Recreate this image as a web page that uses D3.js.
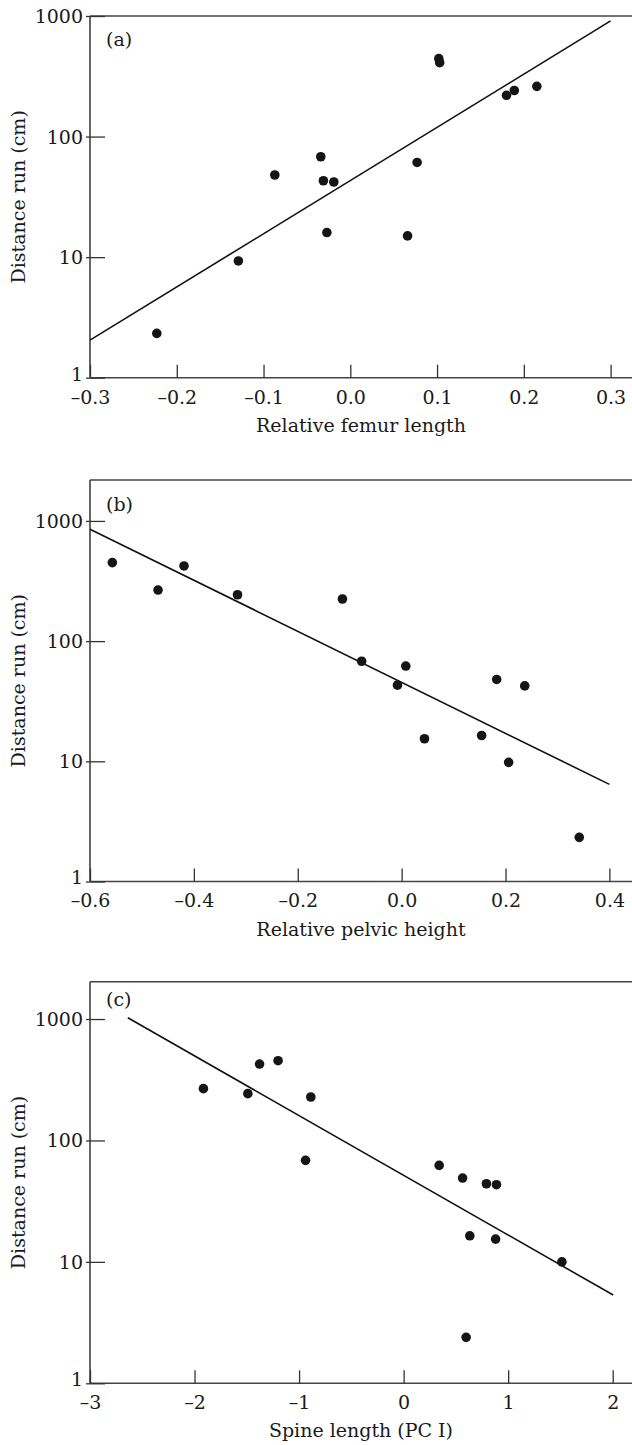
<!DOCTYPE html>
<html>
<head>
<meta charset="utf-8">
<script src="https://cdn.jsdelivr.net/npm/d3@7"></script>
<style>
  html, body { margin: 0; padding: 0; background: #fff; }
  svg text { font-family: "DejaVu Serif", "Liberation Serif", serif; fill: #1a1a1a; }
</style>
</head>
<body>
<svg id="chart" width="632" height="1445"></svg>
<script>
// ---- Data ----
const femurX = [-0.223, -0.129, -0.087, -0.034, -0.031, -0.019, -0.027, 0.066, 0.077, 0.102, 0.103, 0.180, 0.189, 0.215];
const femurY = [2.33, 9.3, 48, 68, 43, 42, 16, 15, 61, 443, 410, 220, 241, 261];
const fitFemurX = [-0.3, 0.3];
const fitFemurY = [2.05, 910];

const pelvicX = [-0.557, -0.469, -0.419, -0.316, -0.114, -0.077, 0.008, -0.008, 0.044, 0.154, 0.183, 0.206, 0.237, 0.342];
const pelvicY = [450, 266, 422, 243, 224, 68, 62, 43, 15.4, 16.4, 48, 9.8, 42.4, 2.33];
const fitPelvicX = [-0.6, 0.4];
const fitPelvicY = [853, 6.43];

const spineX = [-1.915, -1.49, -1.378, -1.201, -0.888, -0.938, 0.34, 0.564, 0.792, 0.888, 0.633, 0.88, 1.514, 0.598];
const spineY = [267, 243, 426, 454, 228, 68.6, 62.3, 49, 44, 43.2, 16.4, 15.4, 10, 2.39];
const fitSpineX = [-2.638, 2.005];
const fitSpineY = [1025, 5.33];

const yTicks = [1, 10, 100, 1000];
const yTickLabels = ["1", "10", "100", "1000"];
const femurTicks = [-0.3, -0.2, -0.1, 0.0, 0.1, 0.2, 0.3];
const femurTickLabels = ["\u20130.3", "\u20130.2", "\u20130.1", "0.0", "0.1", "0.2", "0.3"];
const pelvicTicks = [-0.6, -0.4, -0.2, 0.0, 0.2, 0.4];
const pelvicTickLabels = ["\u20130.6", "\u20130.4", "\u20130.2", "0.0", "0.2", "0.4"];
const spineTicks = [-3, -2, -1, 0, 1, 2];
const spineTickLabels = ["\u20133", "\u20132", "\u20131", "0", "1", "2"];

const yTitle = "Distance run (cm)";
const xTitles = ["Relative femur length", "Relative pelvic height", "Spine length (PC I)"];
const panelLabels = ["(a)", "(b)", "(c)"];

// ---- Layout ----
const svg = d3.select("#chart");
const FONT = 19;
const left = 90, right = 632;

const panels = [
  { xs: femurX, ys: femurY, fx: fitFemurX, fy: fitFemurY, ticks: femurTicks, labels: femurTickLabels,
    xDom: [-0.3, 0.3], xRange: [90, 610.6], yDom: [1, 1000], top: 16, bottom: 377.7, labelY: 46 },
  { xs: pelvicX, ys: pelvicY, fx: fitPelvicX, fy: fitPelvicY, ticks: pelvicTicks, labels: pelvicTickLabels,
    xDom: [-0.6, 0.4], xRange: [90, 609.4], yDom: [1, 2190], top: 480, bottom: 881.5, labelY: 511 },
  { xs: spineX, ys: spineY, fx: fitSpineX, fy: fitSpineY, ticks: spineTicks, labels: spineTickLabels,
    xDom: [-3, 2], xRange: [90, 612.7], yDom: [1, 2030], top: 981.7, bottom: 1383.3, labelY: 1006 }
];

panels.forEach((p, i) => {
  const x = d3.scaleLinear().domain(p.xDom).range(p.xRange);
  const y = d3.scaleLog().domain(p.yDom).range([p.bottom, p.top]);
  const g = svg.append("g");

  // frame lines (left, top, bottom)
  g.append("line").attr("x1", left).attr("x2", left).attr("y1", p.top).attr("y2", p.bottom)
    .attr("stroke", "#333").attr("stroke-width", 1.5);
  g.append("line").attr("x1", left).attr("x2", right).attr("y1", p.top).attr("y2", p.top)
    .attr("stroke", "#444").attr("stroke-width", 1.5);
  g.append("line").attr("x1", left).attr("x2", right).attr("y1", p.bottom).attr("y2", p.bottom)
    .attr("stroke", "#444").attr("stroke-width", 1.5);

  // x axis
  const xAxis = d3.axisBottom(x).tickValues(p.ticks)
    .tickFormat((d, k) => p.labels[k]).tickSizeInner(-13).tickSizeOuter(0).tickPadding(12.5);
  const gx = g.append("g").attr("transform", `translate(0,${p.bottom})`).call(xAxis);
  gx.select(".domain").remove();
  gx.selectAll(".tick line").attr("stroke", "#333").attr("stroke-width", 1.3);
  gx.selectAll(".tick text").attr("font-size", FONT).attr("fill", "#1a1a1a")
    .attr("font-family", "DejaVu Serif");

  // y axis
  const yAxis = d3.axisLeft(y).tickValues(yTicks)
    .tickFormat((d, k) => yTickLabels[k]).tickSizeInner(-15).tickSizeOuter(0).tickPadding(7);
  const gy = g.append("g").attr("transform", `translate(${left},0)`).call(yAxis);
  gy.select(".domain").remove();
  gy.selectAll(".tick line").attr("x1", -4).attr("stroke", "#333").attr("stroke-width", 1.3);
  gy.selectAll(".tick text").attr("font-size", FONT).attr("fill", "#1a1a1a")
    .attr("font-family", "DejaVu Serif").attr("dy", "0.34em")
    .attr("y", d => d === yTicks[0] ? -4 : 0);

  // regression line
  const fit = p.fx.map((v, k) => [v, p.fy[k]]);
  g.append("path").datum(fit)
    .attr("d", d3.line().x(d => x(d[0])).y(d => y(d[1])))
    .attr("fill", "none").attr("stroke", "#111").attr("stroke-width", 1.6);

  // points
  const pts = p.xs.map((v, k) => [v, p.ys[k]]);
  g.selectAll("circle.pt").data(pts).enter().append("circle")
    .attr("class", "pt")
    .attr("cx", d => x(d[0])).attr("cy", d => y(d[1])).attr("r", 4.8)
    .attr("fill", "#151515");

  // panel label
  g.append("text").attr("x", 106).attr("y", p.labelY).attr("font-size", FONT).text(panelLabels[i]);

  // x title
  g.append("text").attr("x", (left + right) / 2).attr("y", p.bottom + 54)
    .attr("text-anchor", "middle").attr("font-size", FONT).text(xTitles[i]);

  // y title
  g.append("text")
    .attr("transform", `translate(25,${(p.top + p.bottom) / 2}) rotate(-90)`)
    .attr("text-anchor", "middle").attr("font-size", FONT).text(yTitle);
});
</script>
</body>
</html>
